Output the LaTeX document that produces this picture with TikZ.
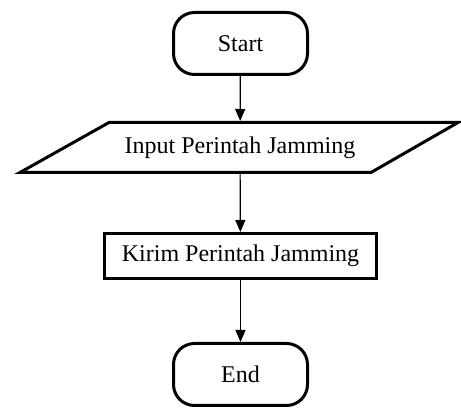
\documentclass[tikz,border=0pt]{standalone}
\usepackage{fontspec}
\setmainfont{Liberation Serif}
\usetikzlibrary{arrows.meta,calc}
\begin{document}
\begin{tikzpicture}[x=1pt,y=1pt,
  term/.style={draw, line width=3pt, rounded corners=21pt, minimum width=134pt, minimum height=62pt, inner sep=0pt, font=\fontsize{24}{28}\selectfont},
  procbox/.style={draw, line width=3pt, minimum width=272pt, minimum height=45pt, inner sep=0pt, font=\fontsize{24}{28}\selectfont},
  iobox/.style={minimum width=270pt, minimum height=50pt, inner sep=0pt, outer sep=1.5pt, font=\fontsize{24}{28}\selectfont},
  conn/.style={line width=1.2pt, -{Triangle[width=10pt,length=12pt]}}
]
\useasboundingbox (0,0) rectangle (461,409);
\node[term] (start) at (240.5,365.5) {Start};
\node[iobox] (input) at (240,261.5) {Input Perintah Jamming};
\draw[line width=3pt, line join=miter]
  ($(input.north)+(-131,-1.5)$) -- ($(input.north)+(218,-1.5)$) -- ($(input.south)+(131,1.5)$) -- ($(input.south)+(-220,1.5)$) -- cycle;
\node[procbox] (send) at (240.5,153) {Kirim Perintah Jamming};
\node[term] (end) at (240.5,34.5) {End};
\draw[conn] (start) -- (input);
\draw[conn] (input) -- (send);
\draw[conn] (send) -- (end);
\end{tikzpicture}
\end{document}
